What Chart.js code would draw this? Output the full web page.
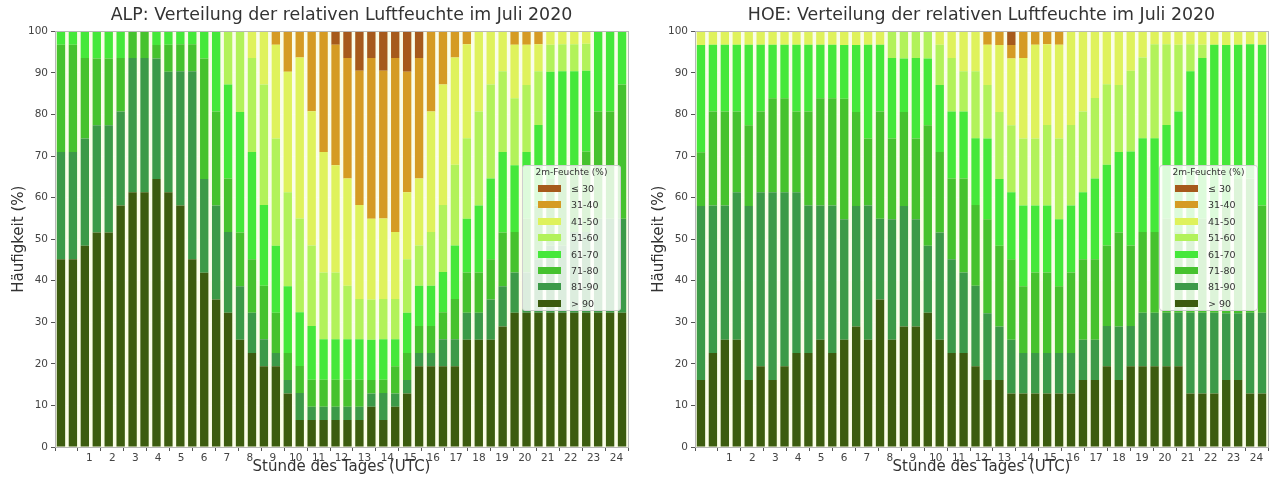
<!DOCTYPE html>
<html>
<head>
<meta charset="utf-8">
<script src="https://cdn.jsdelivr.net/npm/chart.js@4.4.0/dist/chart.umd.min.js"></script>
<style>
  body { margin: 0; background: #fff; font-family: "DejaVu Sans", sans-serif; }
  #wrap { position: relative; width: 1277px; height: 479px; }
  .box { position: absolute; top: 0; height: 479px; }
  #boxA { left: 0; width: 640px; }
  #boxB { left: 640px; width: 637px; }
  .legend {
    position: absolute; top: 165px; width: 99px; height: 146px;
    background: rgba(255,255,255,0.82); border: 1px solid #cfcfcf; border-radius: 3px;
    font-size: 9.5px; color: #333; box-sizing: border-box;
  }
  .legend .ttl { position: absolute; top: 1px; left: 0; width: 100%; text-align: center; font-size: 9px; }
  .legend .row { position: absolute; left: 0; width: 100%; height: 12px; }
  .legend .patch { position: absolute; left: 15px; top: 2px; width: 23px; height: 7px; }
  .legend .txt { position: absolute; left: 48px; top: 0; line-height: 12px; }
</style>
</head>
<body>
<div id="wrap">
  <div class="box" id="boxA"><canvas id="chartA"></canvas></div>
  <div class="box" id="boxB"><canvas id="chartB"></canvas></div>
  <div class="legend" id="legA" style="left:522px"></div>
  <div class="legend" id="legB" style="left:1159px"></div>
</div>
<script>
// half-hour slots 00:00 ... 23:30
const slots = Array.from({ length: 48 }, (_, i) => String(Math.floor(i / 2)).padStart(2, '0') + (i % 2 ? ':30' : ':00'));

const classes = ['> 90', '81-90', '71-80', '61-70', '51-60', '41-50', '31-40', '≤ 30'];
const colors = ['#3c5c0f', '#3c9a48', '#46c22e', '#45e83a', '#b2f25a', '#dff25c', '#d59b24', '#a65a1c'];

// ALP, Anteil der Tage (%) je Klasse
const alpOver90 = [45.2,45.2,48.4,51.6,51.6,58.1,61.3,61.3,64.5,61.3,58.1,45.2, 41.9,35.5,32.3,25.8,22.6,19.4,19.4,12.9,6.5,6.5,6.5,6.5, 6.5,6.5,9.7,6.5,9.7,12.9,19.4,19.4,19.4,19.4,25.8,25.8, 25.8,29.0,32.3,32.3,32.3,32.3,32.3,32.3,32.3,32.3,32.3,32.3];
const alp81 = [25.8,25.8,25.8,25.8,25.8,22.6,32.3,32.3,29.0,29.0,32.3,45.2, 22.6,22.6,19.4,12.9,9.7,6.5,3.2,3.2,6.5,3.2,3.2,3.2, 3.2,3.2,3.2,6.5,3.2,3.2,3.2,3.2,6.5,6.5,6.5,6.5, 9.7,9.7,9.7,9.7,12.9,16.1,16.1,19.4,19.4,22.6,22.6,22.6];
const alp71 = [25.8,25.8,19.4,16.1,16.1,12.9,6.5,6.5,3.2,6.5,6.5,6.5, 29.0,22.6,12.9,12.9,12.9,12.9,9.7,6.5,6.5,6.5,6.5,6.5, 6.5,6.5,3.2,3.2,6.5,6.5,6.5,6.5,6.5,9.7,9.7,9.7, 9.7,12.9,9.7,12.9,12.9,16.1,19.4,16.1,19.4,25.8,25.8,32.3];
const alp61 = [3.2,3.2,6.5,6.5,6.5,6.5,0,0,3.2,3.2,3.2,3.2, 6.5,19.4,22.6,29.0,25.8,19.4,16.1,16.1,12.9,12.9,9.7,9.7, 9.7,9.7,9.7,9.7,6.5,9.7,9.7,9.7,9.7,12.9,12.9,16.1, 19.4,19.4,16.1,16.1,19.4,25.8,22.6,22.6,19.4,19.4,19.4,12.9];
const alp51 = [0,0,0,0,0,0,0,0,0,0,0,0, 0,0,12.9,19.4,22.6,29.0,25.8,22.6,22.6,19.4,16.1,16.1, 12.9,9.7,9.7,9.7,9.7,12.9,9.7,12.9,16.1,19.4,19.4,22.6, 22.6,19.4,16.1,16.1,12.9,6.5,6.5,6.5,6.5,0,0,0];
const alp41 = [0,0,0,0,0,0,0,0,0,0,0,0, 0,0,0,0,6.5,12.9,22.6,29.0,38.7,32.3,29.0,25.8, 25.8,22.6,19.4,19.4,16.1,16.1,16.1,29.0,29.0,25.8,22.6,19.4, 12.9,9.7,12.9,9.7,6.5,3.2,3.2,3.2,3.2,0,0,0];
const alp31 = [0,0,0,0,0,0,0,0,0,0,0,0, 0,0,0,0,0,0,3.2,9.7,6.5,19.4,29.0,29.0, 29.0,32.3,38.7,35.5,41.9,29.0,29.0,19.4,12.9,6.5,3.2,0, 0,0,3.2,3.2,3.2,0,0,0,0,0,0,0];
const alp30 = [0,0,0,0,0,0,0,0,0,0,0,0, 0,0,0,0,0,0,0,0,0,0,0,3.2, 6.5,9.7,6.5,9.7,6.5,9.7,6.5,0,0,0,0,0, 0,0,0,0,0,0,0,0,0,0,0,0];

// HOE
const hoeOver90 = [16.1,22.6,25.8,25.8,16.1,19.4,16.1,19.4,22.6,22.6,25.8,22.6, 25.8,29.0,25.8,35.5,25.8,29.0,29.0,32.3,25.8,22.6,22.6,19.4, 16.1,16.1,12.9,12.9,12.9,12.9,12.9,12.9,16.1,16.1,19.4,16.1, 19.4,19.4,19.4,19.4,19.4,12.9,12.9,12.9,16.1,16.1,12.9,12.9];
const hoe81 = [41.9,35.5,32.3,35.5,41.9,41.9,45.2,41.9,38.7,35.5,32.3,35.5, 29.0,29.0,32.3,19.4,29.0,29.0,25.8,16.1,25.8,22.6,19.4,19.4, 16.1,12.9,12.9,9.7,9.7,9.7,9.7,9.7,9.7,9.7,9.7,12.9, 9.7,12.9,12.9,12.9,12.9,19.4,19.4,19.4,16.1,16.1,19.4,19.4];
const hoe71 = [12.9,22.6,22.6,19.4,19.4,19.4,22.6,22.6,19.4,22.6,25.8,25.8, 29.0,22.6,16.1,25.8,19.4,22.6,19.4,29.0,19.4,19.4,22.6,19.4, 22.6,19.4,19.4,16.1,19.4,19.4,16.1,19.4,19.4,19.4,19.4,22.6, 19.4,19.4,19.4,22.6,19.4,19.4,22.6,22.6,25.8,32.3,32.3,25.8];
const hoe61 = [25.8,16.1,16.1,16.1,19.4,16.1,12.9,12.9,16.1,16.1,12.9,12.9, 12.9,16.1,22.6,16.1,19.4,12.9,19.4,16.1,16.1,16.1,16.1,16.1, 19.4,16.1,16.1,19.4,16.1,16.1,16.1,16.1,16.1,19.4,19.4,19.4, 22.6,22.6,22.6,22.6,29.0,38.7,38.7,41.9,38.7,32.3,32.3,38.7];
const hoe51 = [0,0,0,0,0,0,0,0,0,0,0,0, 0,0,0,0,6.5,6.5,6.5,6.5,9.7,12.9,9.7,16.1, 12.9,16.1,16.1,16.1,16.1,19.4,19.4,19.4,19.4,19.4,19.4,16.1, 19.4,19.4,22.6,19.4,16.1,6.5,3.2,0,0,0,0,0];
const hoe41 = [3.2,3.2,3.2,3.2,3.2,3.2,3.2,3.2,3.2,3.2,3.2,3.2, 3.2,3.2,3.2,3.2,0,0,0,0,3.2,6.5,9.7,9.7, 9.7,16.1,16.1,19.4,22.6,19.4,22.6,22.6,19.4,16.1,12.9,12.9, 9.7,6.5,3.2,3.2,3.2,3.2,3.2,3.2,3.2,3.2,3.2,3.2];
const hoe31 = [0,0,0,0,0,0,0,0,0,0,0,0, 0,0,0,0,0,0,0,0,0,0,0,0, 3.2,3.2,3.2,6.5,3.2,3.2,3.2,0,0,0,0,0, 0,0,0,0,0,0,0,0,0,0,0,0];
const hoe30 = [0,0,0,0,0,0,0,0,0,0,0,0, 0,0,0,0,0,0,0,0,0,0,0,0, 0,0,3.2,0,0,0,0,0,0,0,0,0, 0,0,0,0,0,0,0,0,0,0,0,0];

const alpSeries = [alpOver90, alp81, alp71, alp61, alp51, alp41, alp31, alp30];
const hoeSeries = [hoeOver90, hoe81, hoe71, hoe61, hoe51, hoe41, hoe31, hoe30];

const textColor = '#333';

const framePlugin = {
  id: 'frame',
  beforeDraw(chart) {
    const a = chart.chartArea, ctx = chart.ctx;
    ctx.save();
    ctx.fillStyle = '#fafde8';
    ctx.fillRect(a.left, a.top, a.right - a.left, a.bottom - a.top);
    ctx.restore();
  },
  afterDraw(chart) {
    const a = chart.chartArea, ctx = chart.ctx;
    ctx.save();
    ctx.strokeStyle = '#b8b8b8';
    ctx.lineWidth = 1;
    ctx.strokeRect(Math.round(a.left) + 0.5, Math.round(a.top) + 0.5, Math.round(a.right - a.left), Math.round(a.bottom - a.top));
    ctx.restore();
  }
};

function makeChart(id, title, series, padRight) {
  return new Chart(document.getElementById(id), {
    type: 'bar',
    data: {
      labels: slots,
      datasets: series.map((d, k) => ({
        label: classes[k],
        data: d,
        backgroundColor: colors[k],
        borderWidth: 0,
        categoryPercentage: 1,
        barPercentage: 0.7
      }))
    },
    plugins: [framePlugin],
    options: {
      responsive: true,
      maintainAspectRatio: false,
      animation: false,
      layout: { padding: { left: 0, right: padRight, top: 0, bottom: 0 } },
      plugins: {
        legend: { display: false },
        tooltip: { enabled: false },
        title: {
          display: true, text: title, fullSize: false, color: textColor,
          font: { family: 'DejaVu Sans', size: 17.4, weight: 'normal' },
          padding: { top: 5, bottom: 5.5 }
        }
      },
      scales: {
        x: { type: 'category', stacked: true, display: false, offset: true },
        hour: {
          type: 'linear', position: 'bottom', min: 0, max: 24,
          ticks: {
            stepSize: 1, autoSkip: false, maxRotation: 0, padding: 1, color: '#444',
            font: { family: 'DejaVu Sans', size: 10.5 },
            callback: v => (v === 0 ? '' : v)
          },
          grid: { drawOnChartArea: false, tickLength: 4, tickColor: '#555' },
          border: { color: '#b8b8b8' },
          title: {
            display: true, text: 'Stunde des Tages (UTC)', color: textColor,
            font: { family: 'DejaVu Sans', size: 15 }, padding: { top: 0, bottom: 3 }
          },
          afterFit: s => { s.height = 32; }
        },
        y: {
          stacked: true, min: 0, max: 100, z: 1,
          ticks: { stepSize: 10, padding: 3, color: '#444', font: { family: 'DejaVu Sans', size: 10.5 } },
          grid: { color: 'rgba(255,255,255,0.28)', tickColor: '#555', tickLength: 4 },
          border: { color: '#b8b8b8' },
          title: {
            display: true, text: 'Häufigkeit (%)', color: textColor,
            font: { family: 'DejaVu Sans', size: 15 }, padding: { top: 10, bottom: 0 }
          },
          afterFit: s => { s.width = 55; }
        }
      }
    }
  });
}

function makeLegend(id) {
  const el = document.getElementById(id);
  let html = '<div class="ttl">2m-Feuchte (%)</div>';
  for (let k = classes.length - 1, r = 0; k >= 0; k--, r++) {
    html += '<div class="row" style="top:' + (17 + r * 16.4) + 'px">' +
      '<div class="patch" style="background:' + colors[k] + '"></div>' +
      '<div class="txt">' + classes[k] + '</div></div>';
  }
  el.innerHTML = html;
}

makeChart('chartA', 'ALP: Verteilung der relativen Luftfeuchte im Juli 2020', alpSeries, 12);
makeChart('chartB', 'HOE: Verteilung der relativen Luftfeuchte im Juli 2020', hoeSeries, 9);
makeLegend('legA');
makeLegend('legB');
</script>
</body>
</html>
